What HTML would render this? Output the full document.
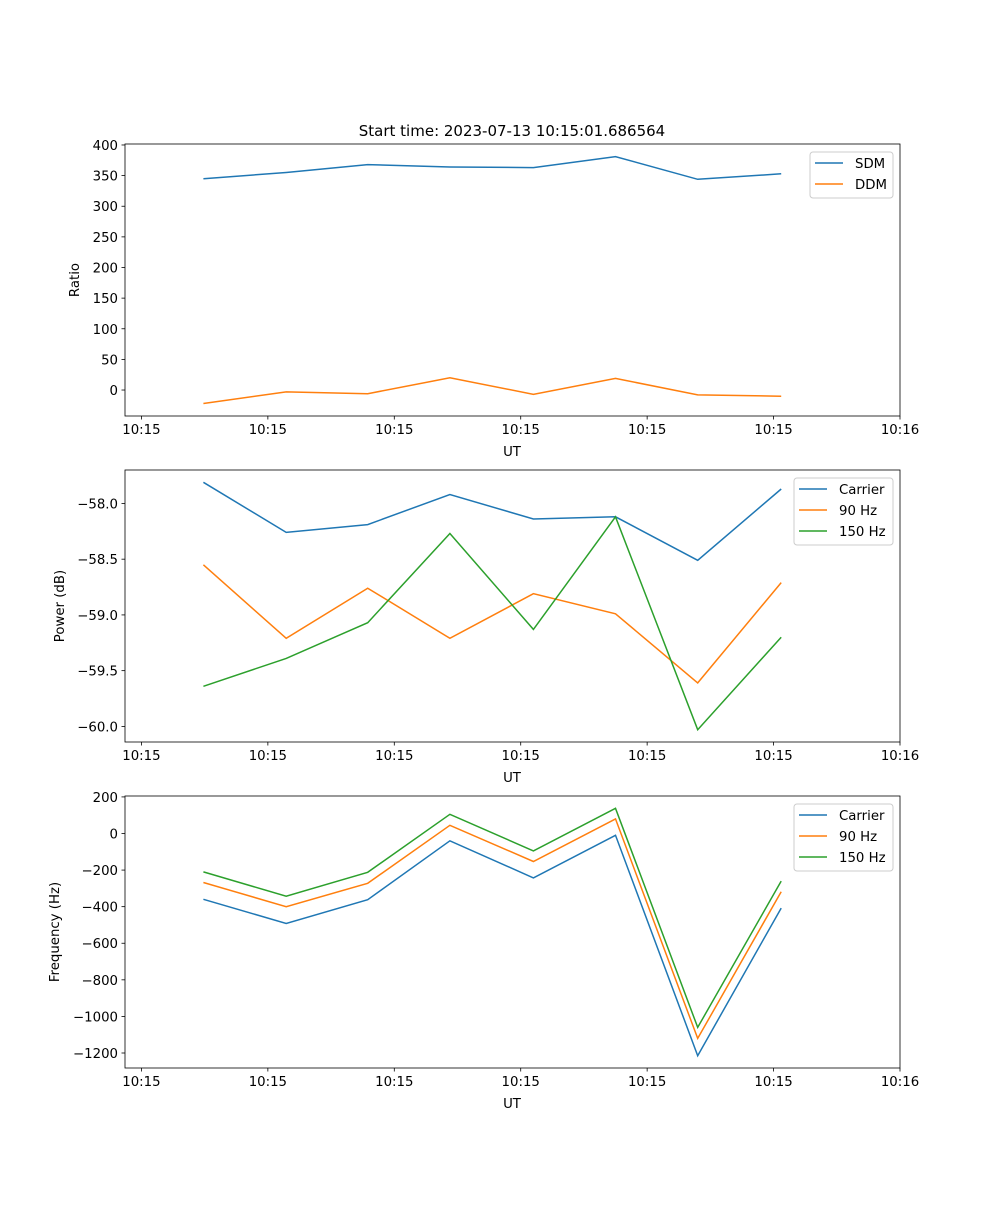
<!DOCTYPE html>
<html><head><meta charset="utf-8"><style>
body{margin:0;background:#fff}
svg text{font-family:"DejaVu Sans","Liberation Sans",sans-serif;fill:#000}
</style></head><body>
<svg id="fig" width="1000" height="1200" xmlns="http://www.w3.org/2000/svg">
<text x="512" y="136" font-size="15" text-anchor="middle">Start time: 2023-07-13 10:15:01.686564</text>
</svg>
<script>
const times = [4.9, 11.45, 17.9, 24.4, 31.0, 37.5, 44.0, 50.6];
const xTickVals = [0, 10, 20, 30, 40, 50, 60];
const xTickLabels = ["10:15","10:15","10:15","10:15","10:15","10:15","10:16"];
const sdm = [345, 355, 368, 364, 363, 381, 344, 353];
const ddm = [-22, -3, -6, 20, -7, 19, -8, -10];
const powCarrier = [-57.81, -58.26, -58.19, -57.92, -58.14, -58.12, -58.51, -57.87];
const pow90 = [-58.55, -59.21, -58.76, -59.21, -58.81, -58.99, -59.61, -58.71];
const pow150 = [-59.64, -59.39, -59.07, -58.27, -59.13, -58.12, -60.03, -59.20];
const frqCarrier = [-360, -492, -362, -40, -243, -10, -1215, -408];
const frq90 = [-268, -400, -272, 45, -153, 80, -1120, -318];
const frq150 = [-210, -343, -212, 105, -95, 138, -1060, -260];
const ticks1 = [0, 50, 100, 150, 200, 250, 300, 350, 400];
const ticks2 = [-60.0, -59.5, -59.0, -58.5, -58.0];
const ticks3 = [-1200, -1000, -800, -600, -400, -200, 0, 200];

const NS = "http://www.w3.org/2000/svg";
const svg = document.getElementById("fig");
const X0 = 125, X1 = 900, T0 = -1.3, T1 = 60.0;
function xs(t){ return X0 + (t - T0) / (T1 - T0) * (X1 - X0); }
function mk(tag, attrs, parent){
  const e = document.createElementNS(NS, tag);
  for (const k in attrs) e.setAttribute(k, attrs[k]);
  (parent || svg).appendChild(e);
  return e;
}
function panel(name, top, bottom, ymin, ymax, yticks, yfmt, ylabel, ylabelX, series, legend){
  const g = mk("g", {});
  
  
  const ys = v => bottom - (v - ymin) / (ymax - ymin) * (bottom - top);
  series.forEach(s => {
    const pts = s.vals.map((v, i) => xs(times[i]).toFixed(1) + "," + ys(v).toFixed(1)).join(" ");
    const pl = mk("polyline", {points: pts, fill: "none", stroke: s.color, "stroke-width": 1.5}, g);
    
    
  });
  const fr = mk("rect", {x: X0, y: top, width: X1 - X0, height: bottom - top, fill: "none", stroke: "#000", "stroke-width": 0.8}, g);
  
  
  xTickVals.forEach((t, i) => {
    const x = xs(t);
    mk("line", {x1: x, x2: x, y1: bottom, y2: bottom + 3.5, stroke: "#000", "stroke-width": 0.8}, g);
    const tx = mk("text", {x: x, y: bottom + 18, "font-size": 13.3, "text-anchor": "middle"}, g);
    tx.textContent = xTickLabels[i];
    
    
  });
  const xl = mk("text", {x: 512, y: bottom + 40, "font-size": 13.3, "text-anchor": "middle"}, g);
  xl.textContent = "UT";
  
  
  yticks.forEach(v => {
    const y = ys(v);
    mk("line", {x1: X0 - 3.5, x2: X0, y1: y, y2: y, stroke: "#000", "stroke-width": 0.8}, g);
    const tx = mk("text", {x: X0 - 7, y: y + 5, "font-size": 13.3, "text-anchor": "end"}, g);
    tx.textContent = yfmt(v);
    
    
  });
  const yl = mk("text", {x: ylabelX, y: (top + bottom) / 2, "font-size": 13.3, "text-anchor": "middle", transform: `rotate(-90 ${ylabelX} ${(top + bottom) / 2})`}, g);
  yl.textContent = ylabel;
  
  
  const lg = mk("g", {}, g);
  
  
  mk("rect", {x: legend.x, y: top + 8, width: 893 - legend.x, height: series.length * 21 + 4, rx: 3, fill: "#fff", "fill-opacity": 0.8, stroke: "#ccc", "stroke-width": 1}, lg);
  series.forEach((s, i) => {
    const y = top + 19 + i * 21;
    mk("line", {x1: legend.x + 5, x2: legend.x + 33, y1: y, y2: y, stroke: s.color, "stroke-width": 1.5}, lg);
    const t = mk("text", {x: legend.x + 45, y: y + 5, "font-size": 13.3}, lg);
    t.textContent = s.label;
    
    
  });
}
const C1 = "#1f77b4", C2 = "#ff7f0e", C3 = "#2ca02c";
const minus = s => s.replace("-", "\u2212");
panel("ratio-panel", 144, 416, -42.4, 401.6, ticks1, v => minus(String(v)), "Ratio", 79,
  [{id: "sdm", label: "SDM", vals: sdm, color: C1}, {id: "ddm", label: "DDM", vals: ddm, color: C2}], {x: 810});
panel("power-panel", 470, 742, -60.14, -57.70, ticks2, v => minus(v.toFixed(1)), "Power (dB)", 64,
  [{id: "carrier", label: "Carrier", vals: powCarrier, color: C1}, {id: "90hz", label: "90 Hz", vals: pow90, color: C2}, {id: "150hz", label: "150 Hz", vals: pow150, color: C3}], {x: 794});
panel("frequency-panel", 796, 1068, -1282, 205, ticks3, v => minus(String(v)), "Frequency (Hz)", 59,
  [{id: "carrier", label: "Carrier", vals: frqCarrier, color: C1}, {id: "90hz", label: "90 Hz", vals: frq90, color: C2}, {id: "150hz", label: "150 Hz", vals: frq150, color: C3}], {x: 794});
</script>
</body></html>
